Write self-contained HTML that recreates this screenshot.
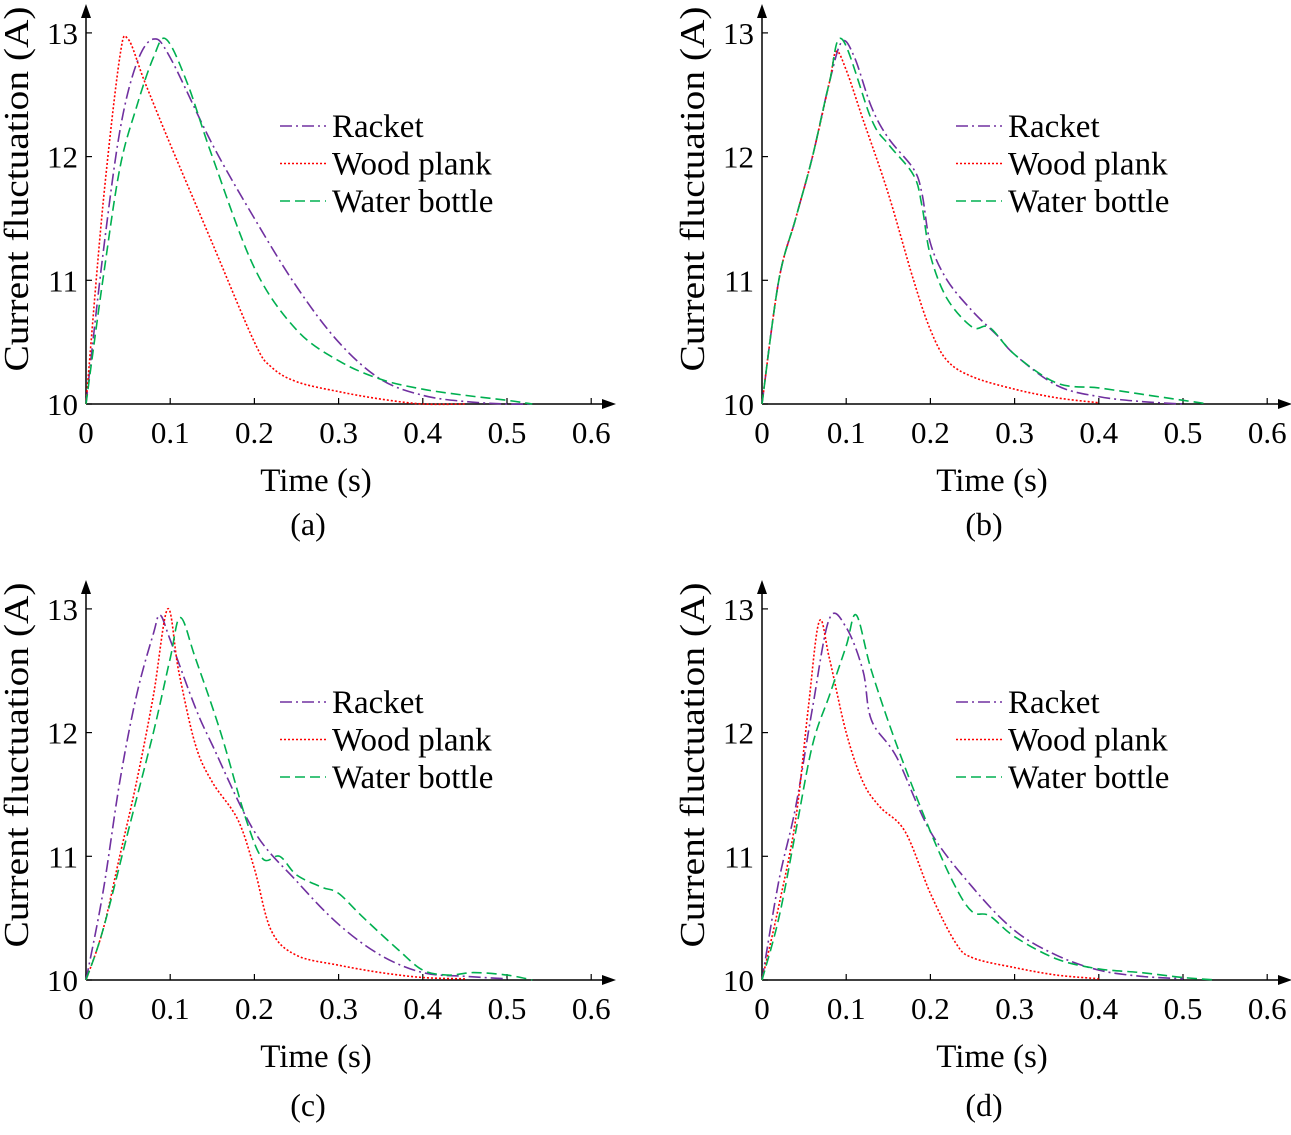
<!DOCTYPE html>
<html><head><meta charset="utf-8"><style>
body{margin:0;background:#fff}
svg text{font-family:"Liberation Serif",serif;fill:#000}
</style></head><body>
<svg id="chart" width="1291" height="1130" viewBox="0 0 1291 1130"></svg>
<script>
const xTicks=[0,0.1,0.2,0.3,0.4,0.5,0.6];
const yTicks=[10,11,12,13];
const seriesNames=["Racket","Wood plank","Water bottle"];
const aRacket=[[0,10],[0.02,11.2],[0.04,12.2],[0.06,12.75],[0.08,12.95],[0.1,12.8],[0.15,12.1],[0.2,11.5],[0.25,10.95],[0.3,10.5],[0.35,10.2],[0.4,10.07],[0.45,10.02],[0.5,10],[0.53,10]];
const aWood=[[0,10],[0.02,11.6],[0.04,12.8],[0.05,12.95],[0.07,12.6],[0.1,12.1],[0.15,11.3],[0.2,10.5],[0.22,10.3],[0.25,10.18],[0.3,10.1],[0.35,10.04],[0.4,10],[0.45,10]];
const aWater=[[0,10],[0.02,11],[0.04,11.9],[0.06,12.4],[0.08,12.8],[0.095,12.95],[0.12,12.6],[0.15,12],[0.2,11.1],[0.25,10.6],[0.3,10.35],[0.35,10.2],[0.4,10.12],[0.45,10.07],[0.5,10.03],[0.53,10]];
const bRacket=[[0,10],[0.02,11],[0.04,11.5],[0.06,12],[0.08,12.6],[0.095,12.93],[0.11,12.8],[0.13,12.4],[0.15,12.15],[0.18,11.9],[0.19,11.7],[0.2,11.3],[0.22,11],[0.25,10.75],[0.28,10.55],[0.3,10.4],[0.35,10.15],[0.4,10.06],[0.45,10.02],[0.5,10]];
const bWood=[[0,10],[0.02,11],[0.04,11.5],[0.06,12],[0.08,12.6],[0.088,12.85],[0.1,12.7],[0.12,12.3],[0.15,11.7],[0.18,11],[0.2,10.6],[0.22,10.35],[0.25,10.22],[0.3,10.12],[0.35,10.05],[0.4,10.01]];
const bWater=[[0,10],[0.02,11],[0.04,11.5],[0.06,12],[0.08,12.6],[0.095,12.95],[0.13,12.3],[0.15,12.1],[0.18,11.85],[0.19,11.6],[0.2,11.2],[0.22,10.85],[0.25,10.62],[0.27,10.62],[0.3,10.4],[0.35,10.17],[0.4,10.13],[0.45,10.08],[0.5,10.03],[0.53,10]];
const cRacket=[[0,10],[0.02,10.7],[0.04,11.6],[0.06,12.3],[0.08,12.8],[0.088,12.95],[0.1,12.75],[0.13,12.2],[0.15,11.9],[0.2,11.2],[0.25,10.8],[0.3,10.45],[0.35,10.2],[0.4,10.06],[0.45,10.03],[0.5,10.01]];
const cWood=[[0,10],[0.02,10.4],[0.04,11],[0.06,11.6],[0.08,12.3],[0.097,13],[0.11,12.5],[0.13,11.9],[0.15,11.6],[0.18,11.3],[0.2,10.9],[0.22,10.4],[0.25,10.2],[0.3,10.12],[0.35,10.06],[0.4,10.02],[0.45,10.01]];
const cWater=[[0,10],[0.02,10.4],[0.05,11.2],[0.08,12],[0.1,12.6],[0.112,12.93],[0.13,12.6],[0.16,12],[0.19,11.3],[0.21,10.98],[0.23,11.0],[0.25,10.85],[0.28,10.75],[0.3,10.7],[0.33,10.5],[0.37,10.25],[0.4,10.08],[0.43,10.04],[0.46,10.06],[0.5,10.04],[0.53,10]];
const dRacket=[[0,10],[0.02,10.8],[0.04,11.4],[0.06,12.2],[0.08,12.92],[0.1,12.85],[0.12,12.5],[0.13,12.1],[0.16,11.8],[0.2,11.2],[0.25,10.75],[0.3,10.4],[0.35,10.2],[0.4,10.08],[0.45,10.03],[0.5,10.01]];
const dWood=[[0,10],[0.02,10.6],[0.04,11.3],[0.055,12.2],[0.068,12.9],[0.08,12.6],[0.1,12],[0.12,11.6],[0.14,11.4],[0.17,11.2],[0.2,10.7],[0.23,10.3],[0.25,10.18],[0.3,10.1],[0.35,10.04],[0.4,10.01]];
const dWater=[[0,10],[0.02,10.5],[0.04,11.2],[0.06,11.9],[0.08,12.3],[0.1,12.7],[0.112,12.95],[0.13,12.5],[0.16,11.9],[0.2,11.2],[0.23,10.75],[0.25,10.55],[0.27,10.52],[0.3,10.35],[0.35,10.17],[0.4,10.09],[0.45,10.06],[0.5,10.02],[0.54,10]];
const panelLabels=["(a)","(b)","(c)","(d)"];

const svg=document.getElementById('chart');
const NS="http://www.w3.org/2000/svg";
function mk(tag,attrs,parent){const e=document.createElementNS(NS,tag);for(const k in attrs)e.setAttribute(k,attrs[k]);parent.appendChild(e);return e;}
const styles=[{c:"#7030a0",d:"12,4,2,4"},{c:"#ff0000",d:"2,2"},{c:"#00b050",d:"10,5"}];
const panels=[{ox:86,oy:404,s:[aRacket,aWood,aWater]},{ox:762,oy:404,s:[bRacket,bWood,bWater]},{ox:86,oy:980,s:[cRacket,cWood,cWater]},{ox:762,oy:980,s:[dRacket,dWood,dWater]}];
function smooth(pts){let d="M"+pts[0][0]+","+pts[0][1];for(let i=0;i<pts.length-1;i++){const p0=pts[Math.max(0,i-1)],p1=pts[i],p2=pts[i+1],p3=pts[Math.min(pts.length-1,i+2)];const c1x=p1[0]+(p2[0]-p0[0])/6,c1y=p1[1]+(p2[1]-p0[1])/6,c2x=p2[0]-(p3[0]-p1[0])/6,c2y=p2[1]-(p3[1]-p1[1])/6;d+=" C"+c1x.toFixed(1)+","+c1y.toFixed(1)+" "+c2x.toFixed(1)+","+c2y.toFixed(1)+" "+p2[0].toFixed(1)+","+p2[1].toFixed(1);}return d;}
panels.forEach((P,pi)=>{
  const g=mk('g',{},svg);
  
  
  const X=v=>P.ox+v*842;
  const Y=v=>P.oy-(v-10)*123.7;
  const ax=mk('path',{d:`M${P.ox},${P.oy} H${P.ox+525} M${P.ox},${P.oy} V${P.oy-395}`,stroke:"#000","stroke-width":1.5,fill:"none"},g);
  
  
  mk('path',{d:`M${P.ox+530},${P.oy} l-14,-5 v10 z M${P.ox},${P.oy-400} l-5,14 h10 z`,fill:"#000"},g);
  xTicks.forEach(t=>{mk('line',{x1:X(t),x2:X(t),y1:P.oy,y2:P.oy-6,stroke:"#000","stroke-width":1.2},g);
    const tx=mk('text',{x:X(t),y:P.oy+39,"text-anchor":"middle","font-size":31},g);tx.textContent=String(t);
    
    });
  yTicks.forEach(t=>{mk('line',{x1:P.ox,x2:P.ox+6,y1:Y(t),y2:Y(t),stroke:"#000","stroke-width":1.2},g);
    const tx=mk('text',{x:P.ox-8,y:Y(t)+11,"text-anchor":"end","font-size":31},g);tx.textContent=String(t);
    
    });
  const yl=mk('text',{x:0,y:0,"text-anchor":"middle","font-size":35,textLength:365,lengthAdjust:"spacingAndGlyphs",transform:`translate(${P.ox-58},${P.oy-215}) rotate(-90)`},g);yl.textContent="Current fluctuation (A)";
  
  
  const xl=mk('text',{x:P.ox+230,y:P.oy+87,"text-anchor":"middle","font-size":33},g);xl.textContent="Time (s)";
  
  
  const pl=mk('text',{x:P.ox+222,y:P.oy+(pi<2?131:136),"text-anchor":"middle","font-size":32},g);pl.textContent=panelLabels[pi];
  
  
  P.s.forEach((data,si)=>{
    const pts=data.map(p=>[X(p[0]),Y(p[1])]);
    const path=mk('path',{d:smooth(pts),fill:"none",stroke:styles[si].c,"stroke-width":1.6,"stroke-dasharray":styles[si].d},g);
    
    
    const ly=P.oy-278+si*37.5;
    const ll=mk('line',{x1:P.ox+194,x2:P.ox+240,y1:ly,y2:ly,stroke:styles[si].c,"stroke-width":1.6,"stroke-dasharray":styles[si].d},g);
    
    
    const lt=mk('text',{x:P.ox+246,y:ly+11,"font-size":33},g);lt.textContent=seriesNames[si];
    
    
  });
});
</script>
</body></html>
